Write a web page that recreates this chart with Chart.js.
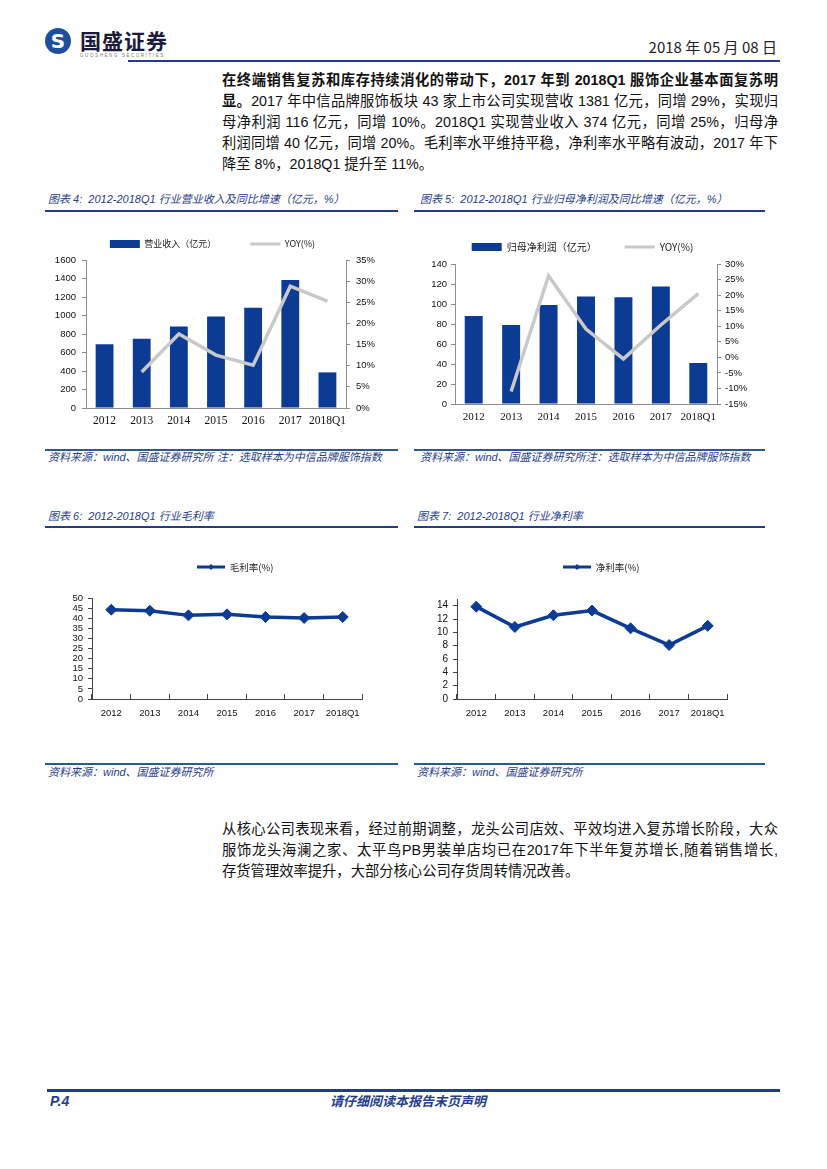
<!DOCTYPE html>
<html>
<head>
<meta charset="utf-8">
<script src="https://cdn.jsdelivr.net/npm/chart.js@4.4.1/dist/chart.umd.min.js"></script>
<style>
  html, body { margin: 0; padding: 0; background: #fff; }
  #page { position: relative; width: 827px; height: 1169px; overflow: hidden;
    font-family: "Liberation Sans", "Noto Sans CJK SC", sans-serif; color: #111; }
  .abs { position: absolute; white-space: nowrap; }
  .para { position: absolute; left: 222px; width: 556px; font-size: 14.3px; line-height: 21px; }
  .para div { text-align: justify; text-align-last: justify; height: 21px; overflow: visible; }
  .para div.last { text-align-last: left; }
  .ttl { position: absolute; font-size: 11px; font-style: italic; color: #1f3d8c; line-height: 14px; white-space: nowrap; }
  .src { position: absolute; font-size: 11px; font-style: italic; color: #1f3d8c; line-height: 14px; white-space: nowrap; }
  .hl { position: absolute; background: #1f3d8c; }
  .box { position: absolute; }
</style>
</head>
<body>
<div id="page">
  <!-- header -->
  <div class="abs" style="left:45px;top:28px;width:26px;height:26px;border-radius:50%;background:#1d4f9c;color:#fff;font:bold 20px/26px 'DejaVu Sans';text-align:center;">S</div>
  <div class="abs" style="left:80px;top:27px;font:bold 21px/26px 'Noto Sans CJK SC';color:#1a1a3a;letter-spacing:1px;">国盛证券</div>
  <div class="abs" style="left:80px;top:53px;font:4.5px/6px 'Liberation Sans';color:#777;letter-spacing:1.6px;">GUOSHENG SECURITIES</div>
  <div class="abs" style="right:50px;top:38px;font:15px/18px 'Liberation Sans Narrow','Noto Sans CJK SC';color:#222;">2018 年 05 月 08 日</div>
  <div class="hl" style="left:128px;top:60px;width:652px;height:2px;"></div>

  <!-- paragraph 1 -->
  <div class="para" style="top:69.5px;">
    <div style="font-weight:bold;">在终端销售复苏和库存持续消化的带动下，2017 年到 2018Q1 服饰企业基本面复苏明</div>
    <div><b>显。</b>2017 年中信品牌服饰板块 43 家上市公司实现营收 1381 亿元，同增 29%，实现归</div>
    <div>母净利润 116 亿元，同增 10%。2018Q1 实现营业收入 374 亿元，同增 25%，归母净</div>
    <div>利润同增 40 亿元，同增 20%。毛利率水平维持平稳，净利率水平略有波动，2017 年下</div>
    <div class="last">降至 8%，2018Q1 提升至 11%。</div>
  </div>

  <!-- chart titles row 1 -->
  <div class="ttl" style="left:48px;top:192px;">图表 4:&nbsp; 2012-2018Q1 行业营业收入及同比增速（亿元，%）</div>
  <div class="ttl" style="left:420px;top:192px;">图表 5:&nbsp; 2012-2018Q1 行业归母净利润及同比增速（亿元，%）</div>
  <div class="hl" style="left:45px;top:210px;width:353px;height:2px;"></div>
  <div class="hl" style="left:414px;top:210px;width:351px;height:2px;"></div>

  <div class="box" style="left:40px;top:225px;width:345px;height:210px;"><canvas id="c4"></canvas></div>
  <div class="box" style="left:410px;top:225px;width:345px;height:210px;"><canvas id="c5"></canvas></div>

  <div class="hl" style="left:45px;top:449px;width:353px;height:1.5px;background:#2d56a0;"></div>
  <div class="hl" style="left:414px;top:449px;width:351px;height:1.5px;background:#2d56a0;"></div>
  <div class="src" style="left:48px;top:450px;">资料来源：wind、国盛证券研究所 注：选取样本为中信品牌服饰指数</div>
  <div class="src" style="left:420px;top:450px;">资料来源：wind、国盛证券研究所注：选取样本为中信品牌服饰指数</div>

  <!-- chart titles row 2 -->
  <div class="ttl" style="left:48px;top:509px;">图表 6:&nbsp; 2012-2018Q1 行业毛利率</div>
  <div class="ttl" style="left:417px;top:509px;">图表 7:&nbsp; 2012-2018Q1 行业净利率</div>
  <div class="hl" style="left:45px;top:526px;width:353px;height:2px;"></div>
  <div class="hl" style="left:414px;top:526px;width:351px;height:2px;"></div>

  <div class="box" style="left:40px;top:550px;width:340px;height:180px;"><canvas id="c6"></canvas></div>
  <div class="box" style="left:410px;top:550px;width:340px;height:180px;"><canvas id="c7"></canvas></div>

  <div class="hl" style="left:45px;top:763px;width:353px;height:1.5px;background:#2d56a0;"></div>
  <div class="hl" style="left:414px;top:763px;width:351px;height:1.5px;background:#2d56a0;"></div>
  <div class="src" style="left:48px;top:765px;">资料来源：wind、国盛证券研究所</div>
  <div class="src" style="left:417px;top:765px;">资料来源：wind、国盛证券研究所</div>

  <!-- paragraph 2 -->
  <div class="para" style="top:818.5px;">
    <div>从核心公司表现来看，经过前期调整，龙头公司店效、平效均进入复苏增长阶段，大众</div>
    <div>服饰龙头海澜之家、太平鸟PB男装单店均已在2017年下半年复苏增长,随着销售增长,</div>
    <div class="last">存货管理效率提升，大部分核心公司存货周转情况改善。</div>
  </div>

  <!-- footer -->
  <div class="hl" style="left:47px;top:1089px;width:733px;height:3px;"></div>
  <div class="abs" style="left:50px;top:1093px;font:bold italic 14px/16px 'Liberation Sans';color:#1f3d8c;">P.4</div>
  <div class="abs" style="left:330px;top:1093px;font:bold italic 13px/16px 'Noto Sans CJK SC';color:#1f3d8c;">请仔细阅读本报告末页声明</div>
</div>

<script>
const years = ['2012', '2013', '2014', '2015', '2016', '2017', '2018Q1'];
const revenue = [690, 748, 880, 988, 1085, 1385, 385];
const revenueYoy = [null, 8.5, 17.5, 12.5, 10.1, 28.8, 25.3];
const profit = [88, 79, 99, 107.5, 106.8, 117.5, 41];
const profitYoy = [null, -11, 26.2, 9.1, -0.5, 10.4, 20.5];
const grossMargin = [44.2, 43.7, 41.4, 41.9, 40.6, 40.1, 40.6];
const netMargin = [13.85, 10.8, 12.56, 13.26, 10.6, 8.1, 10.97];
const grossTicks = [0, 5, 10, 15, 20, 25, 30, 35, 40, 45, 50];
const netTicks = [0, 2, 4, 6, 8, 10, 12, 14];

const BLUE = '#0c3b94';
const GRAY = '#c9c9c9';
const CJK = "'Noto Sans CJK SC'";

function legendItems(chart) {
  const base = Chart.registry.getPlugin('legend').defaults.labels.generateLabels(chart);
  base.forEach(it => {
    const ds = chart.data.datasets[it.datasetIndex];
    if (ds.type === 'line' || chart.config.type === 'line') {
      it.pointStyle = 'line';
      it.lineWidth = 3;
      it.strokeStyle = ds.borderColor;
    } else {
      it.pointStyle = 'rect';
      it.lineWidth = 0;
      it.fillStyle = ds.backgroundColor;
    }
  });
  return base;
}

// small diamond in the middle of the line legend swatch
const legendDiamond = {
  id: 'legendDiamond',
  afterDraw(chart) {
    if (chart.config.type !== 'line') return;
    const hb = chart.legend.legendHitBoxes[0];
    const cx = hb.left + 14, cy = hb.top + hb.height / 2, r = 3;
    const ctx = chart.ctx;
    ctx.save();
    ctx.fillStyle = BLUE;
    ctx.beginPath();
    ctx.moveTo(cx - r, cy); ctx.lineTo(cx, cy - r); ctx.lineTo(cx + r, cy); ctx.lineTo(cx, cy + r);
    ctx.closePath();
    ctx.fill();
    ctx.restore();
  }
};

function barLineChart(id, o) {
  new Chart(document.getElementById(id), {
    type: 'bar',
    data: {
      labels: years,
      datasets: [
        { type: 'bar', label: o.barLabel, data: o.bars, backgroundColor: BLUE, yAxisID: 'y', order: 1,
          barPercentage: 0.48, categoryPercentage: 1 },
        { type: 'line', label: 'YOY(%)', data: o.yoy, borderColor: GRAY, backgroundColor: GRAY, borderWidth: 3.5,
          pointRadius: 0, yAxisID: 'y1', order: 0, tension: 0 }
      ]
    },
    options: {
      responsive: true, maintainAspectRatio: false, animation: false,
      layout: { padding: { top: o.pt, left: 0, right: 0, bottom: 0 } },
      plugins: {
        tooltip: { enabled: false },
        title: { display: true, text: '', font: { size: 1 }, padding: { top: 0, bottom: o.spacer } },
        legend: {
          weight: 3000, maxHeight: 1000,
          labels: {
            usePointStyle: true, pointStyleWidth: 30, boxHeight: 8, padding: o.gap,
            font: { family: CJK, size: o.legendFont }, color: '#222',
            generateLabels: legendItems,
            sort: (a, b) => a.datasetIndex - b.datasetIndex
          }
        }
      },
      scales: {
        x: {
          grid: { display: false, drawTicks: false }, border: { color: '#8c8c8c' },
          ticks: { font: { family: 'Liberation Serif', size: o.xFont }, color: '#111', padding: o.xPad,
            maxRotation: 0, autoSkip: false },
          afterFit: s => { s.height = o.xH; }
        },
        y: {
          position: 'left', min: 0, max: o.yMax,
          ticks: { stepSize: o.yStep, autoSkip: false, callback: v => String(v),
            font: { family: 'Liberation Sans', size: 9.5 }, color: '#111', padding: o.yPad },
          grid: { drawOnChartArea: false, tickLength: 4, color: '#8c8c8c' }, border: { color: '#8c8c8c' },
          afterFit: s => { s.width = o.yW; }
        },
        y1: {
          position: 'right', min: o.rMin, max: o.rMax,
          ticks: { stepSize: 5, autoSkip: false, callback: v => v + '%',
            font: { family: 'Liberation Sans', size: 9.5 }, color: '#111', padding: o.yPad },
          grid: { drawOnChartArea: false, tickLength: 4, color: '#8c8c8c' }, border: { color: '#8c8c8c' },
          afterFit: s => { s.width = o.rW; }
        }
      }
    }
  });
}

function marginChart(id, o) {
  new Chart(document.getElementById(id), {
    type: 'line',
    data: {
      labels: years,
      datasets: [{
        label: o.label, data: o.data, borderColor: BLUE, backgroundColor: BLUE, borderWidth: 3.5,
        pointStyle: 'rectRot', pointRadius: 5.5, pointBackgroundColor: BLUE, pointBorderColor: BLUE,
        pointBorderWidth: 1, tension: 0
      }]
    },
    options: {
      responsive: true, maintainAspectRatio: false, animation: false,
      layout: { padding: { top: o.pt, left: 0, right: o.pr, bottom: 0 } },
      plugins: {
        tooltip: { enabled: false },
        title: { display: true, text: '', font: { size: 1 }, padding: { top: 0, bottom: o.spacer } },
        legend: {
          align: 'start', weight: 3000, maxHeight: 1000,
          labels: {
            usePointStyle: true, pointStyleWidth: 28, boxHeight: 8, padding: o.gap,
            font: { family: CJK, size: 9.5 }, color: '#222',
            generateLabels: legendItems
          }
        }
      },
      scales: {
        x: {
          offset: true,
          grid: { offset: true, drawOnChartArea: false, tickLength: -5, color: '#444' }, border: { color: '#444' },
          ticks: { font: { family: 'Liberation Sans', size: 9.5 }, color: '#111', padding: 13.5,
            maxRotation: 0, autoSkip: false },
          afterFit: s => { s.height = 31; }
        },
        y: {
          min: 0, max: o.max,
          ticks: { autoSkip: false, font: { family: 'Liberation Sans', size: o.yFont }, color: '#111', padding: 5 },
          grid: { drawOnChartArea: false, tickLength: 4, color: '#444' }, border: { color: '#444' },
          afterBuildTicks: s => { s.ticks = o.ticks.map(v => ({ value: v })); },
          afterFit: s => { s.width = o.yW; }
        }
      }
    },
    plugins: [legendDiamond]
  });
}

barLineChart('c4', {
  barLabel: '营业收入（亿元）', bars: revenue, yoy: revenueYoy,
  pt: -19.5, spacer: 0.3, gap: 34, legendFont: 9,
  xFont: 11.5, xPad: 6, xH: 27,
  yMax: 1600, yStep: 200, yW: 46, yPad: 6,
  rMin: 0, rMax: 35, rW: 39
});

barLineChart('c5', {
  barLabel: '归母净利润（亿元）', bars: profit, yoy: profitYoy,
  pt: -11, spacer: 0.8, gap: 28, legendFont: 10,
  xFont: 11, xPad: 7, xH: 31,
  yMax: 140, yStep: 20, yW: 45, yPad: 4,
  rMin: -15, rMax: 30, rW: 38
});

marginChart('c6', {
  label: '毛利率(%)', data: grossMargin, ticks: grossTicks,
  pt: -144.75, spacer: 15.05, gap: 157, pr: 18,
  max: 50, yW: 52, yFont: 9.5
});

marginChart('c7', {
  label: '净利率(%)', data: netMargin, ticks: netTicks,
  pt: -140.75, spacer: 16.05, gap: 153, pr: 23,
  max: 15, yW: 47, yFont: 10
});
</script>
</body>
</html>
